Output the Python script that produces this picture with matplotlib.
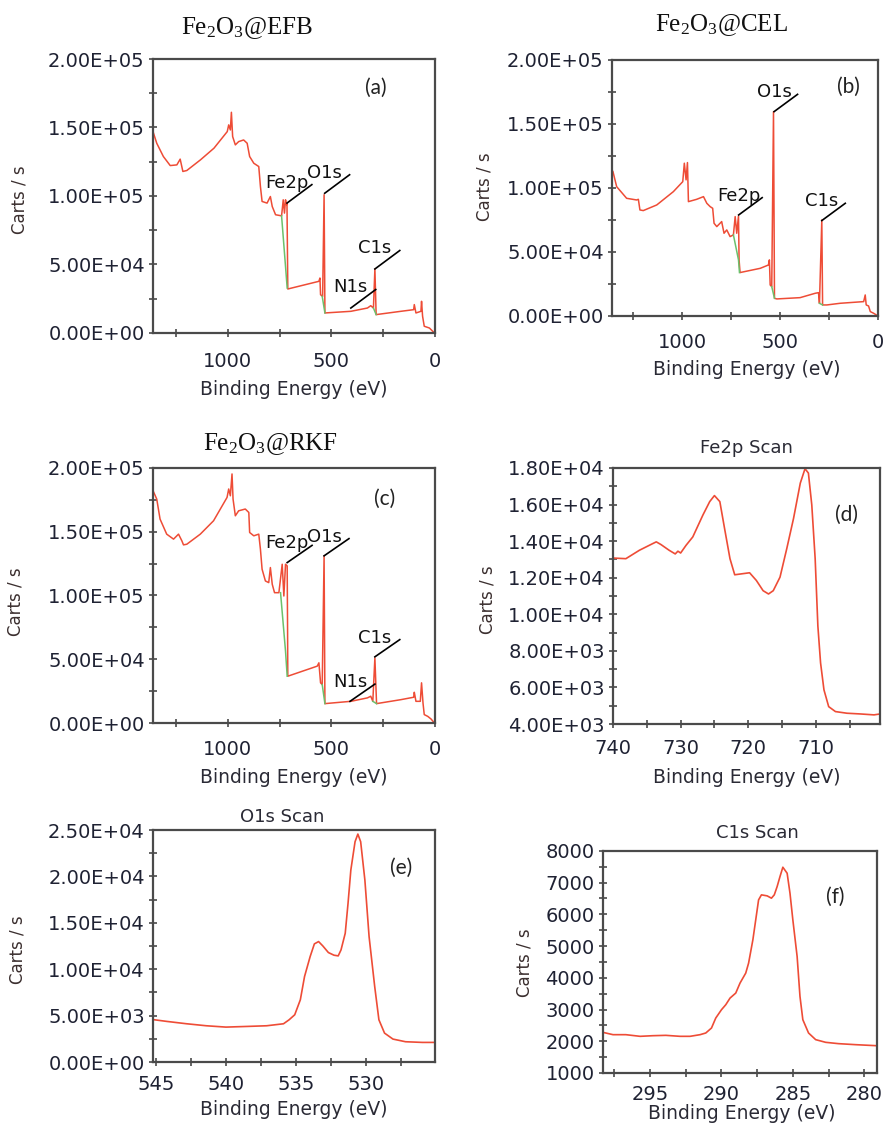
import numpy as np
import matplotlib
matplotlib.use('Agg')
import matplotlib.pyplot as plt
from matplotlib.ticker import MultipleLocator, FormatStrFormatter

plt.rcParams['font.family'] = ['DejaVu Sans']
plt.rcParams['mathtext.fontset'] = 'custom'
plt.rcParams['mathtext.rm'] = 'Liberation Serif'
plt.rcParams['mathtext.it'] = 'Liberation Serif:italic'

nan = np.nan

# ---- survey spectra (binding energy eV, counts in thousands) ----
efb_ev = [1360, 1342, 1310, 1277, 1245, 1229, 1216, 1197, 1131, 1066, 1002, 995, 987, 982, 976,
          963, 947, 923, 906, 894, 874, 850, 842, 834, 810, 794, 785, 769, 740, 732, 726, 721,
          716, 714, 711, 710, 560, 555, 552, 542, 535, 531, 406, 326, 310, 297, 290, 284, 165,
          103, 100, 92, 68, 65, 60, 52, 27, 3]
efb_cps = [147.0, 138.5, 128.8, 122.2, 122.7, 126.9, 117.9, 118.6, 126.4, 134.9, 147.0, 151.9,
           148.2, 161.1, 143.4, 137.3, 139.7, 140.9, 138.5, 128.8, 123.9, 121.5, 106.9, 96.0,
           94.8, 99.6, 92.3, 86.3, 85.5, 97.2, 87.5, 97.2, 93.6, 94.8, 48.6, 32.1, 37.7, 40.1,
           27.9, 26.7, 100.9, 14.6, 15.8, 18.2, 19.9, 18.2, 46.7, 13.4, 15.8, 17.0, 20.7, 14.6,
           15.8, 23.1, 12.2, 4.9, 3.6, 0.0]
efb_bg_ev = [740, 721, 713, nan, 544, 531, nan, 297, 284]
efb_bg_cps = [85.5, 48.6, 32.8, nan, 26.7, 14.6, nan, 18.2, 13.4]
efb_peaks = ['Fe2p', 'O1s', 'C1s', 'N1s']
efb_peak_ev = [714, 532, 290, 406]
efb_peak_cps = [94.8, 102.0, 46.7, 18.2]

cel_ev = [1355, 1336, 1285, 1234, 1225, 1217, 1200, 1131, 1046, 998, 990, 981, 974, 969, 927,
          892, 875, 858, 845, 838, 824, 799, 787, 773, 756, 739, 730, 722, 713, 710, 705, 602,
          560, 555, 551, 543, 534, 529, 517, 398, 321, 304, 299, 287, 283, 261, 193, 73, 65,
          60, 48, 39, 22, 0]
cel_cps = [112.8, 101.0, 91.9, 90.6, 91.1, 82.8, 82.3, 86.7, 97.1, 104.9, 119.3, 106.3, 119.8,
           89.3, 91.1, 93.2, 88.0, 85.4, 84.1, 72.4, 69.8, 73.7, 64.6, 67.2, 62.0, 63.3, 77.6,
           64.6, 78.1, 43.8, 33.9, 37.2, 39.8, 43.8, 24.2, 22.9, 159.6, 13.8, 13.3, 14.3, 17.7,
           18.2, 9.9, 75.0, 8.6, 8.6, 9.9, 11.2, 16.4, 8.6, 7.8, 3.4, 2.1, 0.0]
cel_bg_ev = [739, 713, 708, nan, 543, 529, nan, 299, 283]
cel_bg_cps = [63.3, 43.8, 33.9, nan, 22.9, 13.8, nan, 9.9, 8.6]
cel_peaks = ['Fe2p', 'O1s', 'C1s']
cel_peak_ev = [712, 531, 287]
cel_peak_cps = [78.9, 159.6, 74.5]

rkf_ev = [1360, 1342, 1326, 1294, 1261, 1237, 1221, 1213, 1197, 1132, 1068, 1003, 995, 987, 979,
          974, 963, 947, 915, 898, 894, 874, 850, 842, 834, 818, 802, 794, 785, 774, 753, 737,
          729, 721, 713, 711, 710, 568, 560, 552, 544, 535, 531, 406, 326, 310, 300, 290, 282,
          165, 103, 100, 92, 71, 65, 58, 52, 35, 19, 3]
rkf_cps = [182.2, 175.6, 159.9, 148.1, 144.2, 148.1, 142.9, 139.7, 140.2, 148.1, 158.6, 176.9,
           183.5, 178.2, 195.3, 175.6, 162.5, 166.4, 167.8, 165.1, 149.4, 146.8, 148.1, 136.3,
           120.6, 111.4, 110.1, 121.9, 108.8, 102.2, 102.2, 124.5, 99.6, 124.5, 123.2, 70.8,
           36.7, 44.6, 47.2, 31.5, 30.1, 131.1, 15.2, 17.0, 19.7, 21.0, 17.0, 51.1, 15.2, 18.3,
           20.2, 24.1, 17.0, 17.0, 31.5, 15.7, 6.6, 5.2, 3.1, 0.0]
rkf_bg_ev = [745, 721, 713, nan, 544, 531, nan, 300, 282]
rkf_bg_cps = [102.2, 56.4, 36.7, nan, 30.1, 15.2, nan, 17.0, 15.2]
rkf_peaks = ['Fe2p', 'O1s', 'C1s', 'N1s']
rkf_peak_ev = [713, 535, 290, 410]
rkf_peak_cps = [125.8, 131.1, 51.9, 17.0]

# ---- high resolution scans ----
fe_ev = [740.0, 738.1, 736.1, 734.1, 733.6, 732.9, 731.7, 730.8, 730.4, 730.0, 729.2, 728.2,
         726.7, 725.7, 725.0, 724.2, 723.5, 722.7, 722.0, 721.0, 719.8, 718.8, 717.8, 717.0,
         716.3, 715.3, 714.3, 713.3, 712.3, 711.6, 711.1, 710.6, 710.1, 709.7, 709.3, 708.8,
         708.1, 707.1, 705.4, 703.4, 701.4, 700.5]
fe_cps = [13075, 13040, 13500, 13870, 13960, 13810, 13500, 13300, 13450, 13350, 13770, 14230,
          15430, 16160, 16490, 16160, 14690, 13040, 12160, 12210, 12270, 11850, 11290, 11110,
          11290, 12030, 13590, 15240, 17170, 17960, 17720, 15980, 13040, 9360, 7340, 5870, 4950,
          4680, 4590, 4550, 4500, 4550]

o_ev = [545.1, 544.2, 542.8, 541.4, 540.0, 538.5, 537.1, 535.9, 535.5, 535.1, 534.7, 534.4,
        534.0, 533.7, 533.4, 533.1, 532.7, 532.3, 532.0, 531.8, 531.5, 531.3, 531.1, 530.8,
        530.6, 530.4, 530.1, 529.8, 529.4, 529.1, 528.7, 528.1, 527.2, 526.0, 525.1]
o_cps = [4555, 4376, 4125, 3910, 3766, 3838, 3910, 4125, 4555, 5094, 6708, 9219, 11370, 12734,
         12985, 12519, 11800, 11514, 11442, 12088, 13880, 17110, 20700, 23746, 24570, 23746,
         19620, 13520, 8142, 4555, 3120, 2475, 2188, 2116, 2116]

c_ev = [298.3, 297.6, 296.7, 295.7, 294.8, 293.9, 292.9, 292.2, 291.5, 291.1, 290.7, 290.4,
        290.0, 289.7, 289.4, 289.0, 288.7, 288.3, 288.1, 287.8, 287.6, 287.4, 287.2, 286.8,
        286.5, 286.3, 286.1, 285.9, 285.7, 285.4, 285.2, 285.0, 284.7, 284.5, 284.3, 283.9,
        283.4, 282.7, 281.8, 280.6, 279.2]
c_cps = [2280, 2207, 2207, 2155, 2175, 2186, 2155, 2155, 2207, 2260, 2417, 2732, 2994, 3151,
         3361, 3519, 3834, 4149, 4463, 5198, 5828, 6457, 6615, 6583, 6510, 6615, 6877, 7192,
         7486, 7297, 6667, 5828, 4673, 3414, 2679, 2260, 2050, 1966, 1924, 1892, 1861]

RED = '#ee4c36'
GREEN = '#6cc06c'
SPINE = '#4a4a4a'
TXT = '#1f2233'
YLAB = '#3b2f2f'

fig = plt.figure(figsize=(8.86, 11.26), dpi=100)

axes_pos = {
    'a': [0.1727, 0.7043, 0.3183, 0.2433],
    'b': [0.6907, 0.7194, 0.3002, 0.2274],
    'c': [0.1727, 0.3579, 0.3183, 0.2265],
    'd': [0.6919, 0.3570, 0.3014, 0.2274],
    'e': [0.1727, 0.0568, 0.3183, 0.2060],
    'f': [0.6806, 0.0471, 0.3093, 0.1972],
}


def style(ax, xpad, xlab_xy, ylab_xy, letter, letter_xy):
    for s in ax.spines.values():
        s.set_color(SPINE)
        s.set_linewidth(1.6)
    ax.tick_params(which='both', direction='inout', color=SPINE, width=1.2,
                   labelcolor=TXT, labelsize=14)
    ax.tick_params(which='major', length=6)
    ax.tick_params(which='minor', length=6)
    ax.tick_params(axis='y', pad=3)
    ax.tick_params(axis='x', pad=xpad)
    ax.set_xlabel('Binding Energy (eV)', fontsize=13.5, color='#2a2a35')
    ax.xaxis.set_label_coords(*xlab_xy)
    ax.set_ylabel('Carts / s', fontsize=12, color=YLAB)
    ax.yaxis.set_label_coords(*ylab_xy)
    ax.text(letter_xy[0], letter_xy[1], '(%s)' % letter, transform=ax.transAxes,
            fontsize=15, family='Lato', color='#222222', ha='center', va='center')


def survey(key, ev, cps, bg_ev, bg_cps, names, p_ev, p_cps, xpad, xlab_xy, ylab_xy, letter_xy):
    ax = fig.add_axes(axes_pos[key])
    ax.plot(ev, np.array(cps) * 1e3, color=RED, lw=1.1)
    ax.plot(bg_ev, np.array(bg_cps) * 1e3, color=GREEN, lw=1.1)
    for name, x, y in zip(names, p_ev, p_cps):
        ax.plot([x, x - 120], [y * 1e3, (y + 13.5) * 1e3], color='black', lw=1.2)
        ax.text(x, (y + 15) * 1e3, name, fontsize=13, color='#111111', ha='center', va='center')
    ax.set_xlim(1360, 0)
    ax.set_ylim(0, 2.0e5)
    ax.xaxis.set_major_locator(MultipleLocator(500))
    ax.xaxis.set_minor_locator(MultipleLocator(250))
    ax.yaxis.set_major_locator(MultipleLocator(5e4))
    ax.yaxis.set_minor_locator(MultipleLocator(2.5e4))
    ax.yaxis.set_major_formatter(FormatStrFormatter('%.2E'))
    style(ax, xpad, xlab_xy, ylab_xy, key, letter_xy)
    return ax


survey('a', efb_ev, efb_cps, efb_bg_ev, efb_bg_cps, efb_peaks, efb_peak_ev, efb_peak_cps,
       11, (0.5, -0.1715), (-0.443, 0.485), (0.79, 0.894))
survey('b', cel_ev, cel_cps, cel_bg_ev, cel_bg_cps, cel_peaks, cel_peak_ev, cel_peak_cps,
       9.5, (0.508, -0.172), (-0.447, 0.504), (0.89, 0.895))
survey('c', rkf_ev, rkf_cps, rkf_bg_ev, rkf_bg_cps, rkf_peaks, rkf_peak_ev, rkf_peak_cps,
       9.5, (0.5, -0.176), (-0.454, 0.475), (0.82, 0.878))

# sample titles
titles = [r'Fe$_2$O$_3$@EFB', r'Fe$_2$O$_3$@CEL', r'Fe$_2$O$_3$@RKF']
title_xy = [(247, 34), (721, 31), (270, 450)]
for t, (px, py) in zip(titles, title_xy):
    fig.text(px / 886, 1 - py / 1126, t, fontsize=18, family='Liberation Serif',
             color='#111111', ha='center', va='baseline')

# Fe2p scan
ax = fig.add_axes(axes_pos['d'])
ax.plot(fe_ev, fe_cps, color=RED, lw=1.2)
ax.set_xlim(740, 700.5)
ax.set_ylim(4000, 18000)
ax.xaxis.set_major_locator(MultipleLocator(10))
ax.xaxis.set_minor_locator(MultipleLocator(5))
ax.yaxis.set_major_locator(MultipleLocator(2000))
ax.yaxis.set_minor_locator(MultipleLocator(1000))
ax.yaxis.set_major_formatter(FormatStrFormatter('%.2E'))
style(ax, 7.5, (0.5, -0.172), (-0.438, 0.484), 'd', (0.873, 0.816))
ax.text(0.5, 1.078, 'Fe2p Scan', transform=ax.transAxes, fontsize=13, color='#2a2a35',
        ha='center', va='center')

# O1s scan
ax = fig.add_axes(axes_pos['e'])
ax.plot(o_ev, o_cps, color=RED, lw=1.2)
ax.set_xlim(545.2, 525.1)
ax.set_ylim(0, 25000)
ax.xaxis.set_major_locator(MultipleLocator(5))
ax.xaxis.set_minor_locator(MultipleLocator(2.5))
ax.yaxis.set_major_locator(MultipleLocator(5000))
ax.yaxis.set_minor_locator(MultipleLocator(2500))
ax.yaxis.set_major_formatter(FormatStrFormatter('%.2E'))
style(ax, 6.5, (0.5, -0.165), (-0.447, 0.483), 'e', (0.88, 0.836))
ax.text(0.457, 1.056, 'O1s Scan', transform=ax.transAxes, fontsize=13, color='#2a2a35',
        ha='center', va='center')

# C1s scan
ax = fig.add_axes(axes_pos['f'])
ax.plot(c_ev, c_cps, color=RED, lw=1.2)
ax.set_xlim(298.3, 279.1)
ax.set_ylim(1000, 8000)
ax.xaxis.set_major_locator(MultipleLocator(5))
ax.xaxis.set_minor_locator(MultipleLocator(2.5))
ax.yaxis.set_major_locator(MultipleLocator(1000))
ax.yaxis.set_minor_locator(MultipleLocator(500))
ax.yaxis.set_major_formatter(FormatStrFormatter('%d'))
style(ax, 6, (0.507, -0.14), (-0.252, 0.495), 'f', (0.847, 0.793))
ax.text(0.562, 1.081, 'C1s Scan', transform=ax.transAxes, fontsize=13, color='#2a2a35',
        ha='center', va='center')

fig.savefig('out.png', dpi=100)
